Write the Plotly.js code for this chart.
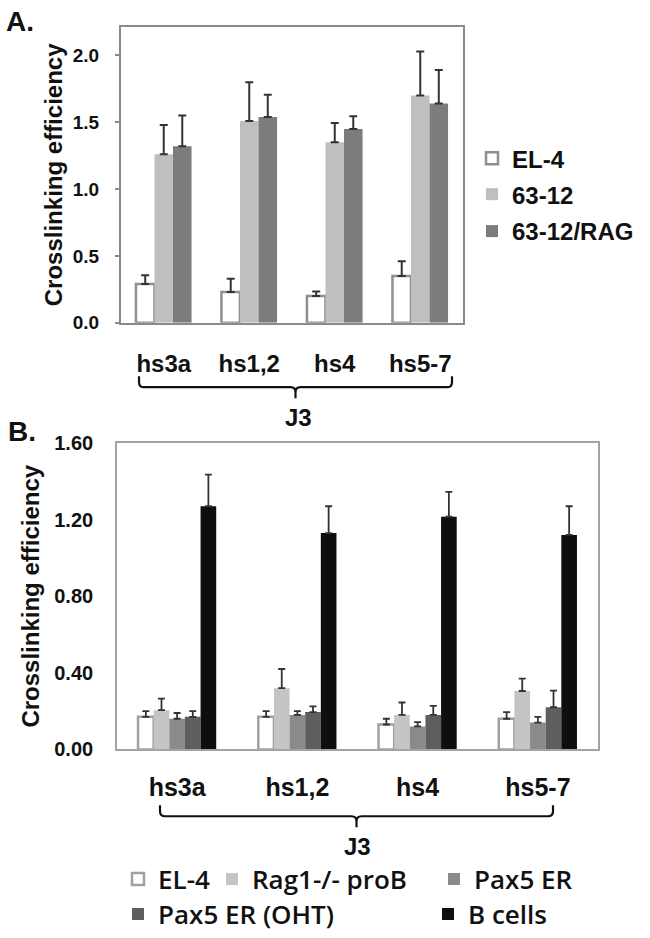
<!DOCTYPE html>
<html>
<head>
<meta charset="utf-8">
<script src="https://cdn.plot.ly/plotly-3.0.1.min.js"></script>
<style>html,body{margin:0;padding:0;background:#fff;}#chart{width:650px;height:938px;}</style>
</head>
<body>
<div id="chart"></div>
<script>
// ---------- DATA ----------
const categoriesA = ['hs3a', 'hs1,2', 'hs4', 'hs5-7'];
const el4A      = [0.29, 0.23, 0.20, 0.35];
const el4AErr   = [0.065, 0.10, 0.035, 0.11];
const c6312A    = [1.26, 1.51, 1.35, 1.70];
const c6312AErr = [0.22, 0.29, 0.145, 0.33];
const ragA      = [1.32, 1.54, 1.45, 1.64];
const ragAErr   = [0.23, 0.165, 0.095, 0.25];
const seriesNamesA = ['EL-4', '63-12', '63-12/RAG'];

const categoriesB = ['hs3a', 'hs1,2', 'hs4', 'hs5-7'];
const el4B      = [0.17, 0.17, 0.13, 0.16];
const el4BErr   = [0.03, 0.03, 0.03, 0.035];
const rag1B     = [0.205, 0.32, 0.18, 0.305];
const rag1BErr  = [0.06, 0.10, 0.065, 0.065];
const pax5B     = [0.16, 0.18, 0.12, 0.14];
const pax5BErr  = [0.03, 0.02, 0.022, 0.03];
const ohtB      = [0.17, 0.195, 0.18, 0.22];
const ohtBErr   = [0.03, 0.03, 0.047, 0.087];
const bcellsB   = [1.27, 1.13, 1.215, 1.12];
const bcellsBErr= [0.165, 0.14, 0.13, 0.15];
const seriesNamesB = ['EL-4', 'Rag1-/- proB', 'Pax5 ER', 'Pax5 ER (OHT)', 'B cells'];

const yTickLabelsA = ['0.0', '0.5', '1.0', '1.5', '2.0'];
const yTickLabelsB = ['0.00', '0.40', '0.80', '1.20', '1.60'];
const yTitle = 'Crosslinking efficiency';
const bracketLabel = 'J3';
const noLower = [0, 0, 0, 0];

// ---------- HELPERS ----------
const W = 650, H = 938;
const px = x => x / W;
const py = y => 1 - y / H;
const ARIAL = 'Arial, "Liberation Sans", sans-serif';

function errY(arr, color, thick, width) {
  return {type: 'data', symmetric: false, array: arr, arrayminus: noLower,
          color: color, thickness: thick, width: width, visible: true};
}

function barTrace(x, y, err, name, fill, lineColor, lineWidth, xa, ya, legendId, errColor, errThick, errWidth) {
  return {
    type: 'bar', x: x, y: y, name: name, xaxis: xa, yaxis: ya, legend: legendId, showlegend: true,
    marker: {color: fill, line: {color: lineColor, width: lineWidth}},
    error_y: errY(err, errColor, errThick, errWidth),
    hoverinfo: 'skip'
  };
}

const data = [
  barTrace(categoriesA, el4A, el4AErr, seriesNamesA[0], '#ffffff', '#8f8f8f', 2.5, 'x', 'y', 'legend', '#333', 2, 4),
  barTrace(categoriesA, c6312A, c6312AErr, seriesNamesA[1], '#bfbfbf', '#bfbfbf', 0, 'x', 'y', 'legend2', '#333', 2, 4),
  barTrace(categoriesA, ragA, ragAErr, seriesNamesA[2], '#7c7c7c', '#7c7c7c', 0, 'x', 'y', 'legend3', '#333', 2, 4),
  barTrace(categoriesB, el4B, el4BErr, seriesNamesB[0], '#ffffff', '#a0a0a0', 2.5, 'x2', 'y2', 'legend4', '#333', 1.8, 3.5),
  barTrace(categoriesB, rag1B, rag1BErr, seriesNamesB[1], '#c4c4c4', '#c4c4c4', 0, 'x2', 'y2', 'legend5', '#333', 1.8, 3.5),
  barTrace(categoriesB, pax5B, pax5BErr, seriesNamesB[2], '#8a8a8a', '#8a8a8a', 0, 'x2', 'y2', 'legend6', '#333', 1.8, 3.5),
  barTrace(categoriesB, ohtB, ohtBErr, seriesNamesB[3], '#5e5e5e', '#5e5e5e', 0, 'x2', 'y2', 'legend7', '#333', 1.8, 3.5),
  barTrace(categoriesB, bcellsB, bcellsBErr, seriesNamesB[4], '#0e0e0e', '#0e0e0e', 0, 'x2', 'y2', 'legend8', '#333', 1.8, 3.5)
];

function legendAt(xPix, yPix, font) {
  return {x: px(xPix), y: py(yPix), xref: 'paper', yref: 'paper', xanchor: 'left', yanchor: 'middle',
          bgcolor: 'rgba(0,0,0,0)', borderwidth: 0, font: font, itemclick: false, itemdoubleclick: false,
          visible: true};
}
const legFontA = {family: ARIAL, size: 24, weight: 'bold', color: '#111'};
const legFontB = {family: '"Open Sans", Lato, sans-serif', size: 26, weight: 600, color: '#111'};

// bracket path (paper coords) built from pixel positions
function bracketPath(xl, xr, yTop, yH, yTick) {
  const r = 5, xc = (xl + xr) / 2;
  const P = (x, y) => px(x).toFixed(5) + ',' + py(y).toFixed(5);
  return 'M' + P(xl, yTop) + ' L' + P(xl, yH - r) + ' Q' + P(xl, yH) + ' ' + P(xl + r, yH) +
         ' L' + P(xc - r, yH) + ' Q' + P(xc, yH) + ' ' + P(xc, yH + r) + ' L' + P(xc, yTick) +
         ' M' + P(xc, yH + r) + ' Q' + P(xc, yH) + ' ' + P(xc + r, yH) +
         ' L' + P(xr - r, yH) + ' Q' + P(xr, yH) + ' ' + P(xr, yH - r) + ' L' + P(xr, yTop);
}

const layout = {
  width: W, height: H, autosize: false,
  margin: {l: 0, r: 0, t: 0, b: 0},
  paper_bgcolor: '#fff', plot_bgcolor: '#fff',
  showlegend: true,
  barmode: 'group', bargap: 0.35, bargroupgap: 0,
  font: {family: ARIAL, color: '#111'},
  xaxis: {
    domain: [px(121), px(463)], anchor: 'y', type: 'category',
    showline: true, mirror: true, linecolor: '#8a8a8a', linewidth: 2,
    ticks: '', showgrid: false, zeroline: false,
    tickfont: {family: ARIAL, size: 24, weight: 'bold', color: '#111'},
    ticklabelstandoff: 18, fixedrange: true
  },
  yaxis: {
    domain: [py(323.5), py(27)], anchor: 'x', range: [0, 2.213],
    tickmode: 'array', tickvals: yTickLabelsA.map(Number), ticktext: yTickLabelsA,
    showline: true, mirror: true, linecolor: '#8a8a8a', linewidth: 2,
    ticks: 'outside', ticklen: 4, tickwidth: 2, tickcolor: '#8a8a8a',
    showgrid: false, zeroline: false,
    tickfont: {family: ARIAL, size: 19, weight: 'bold', color: '#111'},
    ticklabelstandoff: 12,
    title: {text: yTitle, font: {family: ARIAL, size: 24, weight: 'bold', color: '#111'}, standoff: 3},
    fixedrange: true
  },
  xaxis2: {
    domain: [px(117), px(598)], anchor: 'y2', type: 'category',
    showline: true, mirror: true, linecolor: '#a3a3a3', linewidth: 1.8,
    ticks: '', showgrid: false, zeroline: false,
    tickfont: {family: ARIAL, size: 25, weight: 'bold', color: '#111'},
    ticklabelstandoff: 15, fixedrange: true
  },
  yaxis2: {
    domain: [py(751), py(444)], anchor: 'x2', range: [0, 1.6],
    tickmode: 'array', tickvals: yTickLabelsB.map(Number), ticktext: yTickLabelsB,
    showline: true, mirror: true, linecolor: '#a3a3a3', linewidth: 1.8,
    ticks: '', showgrid: false, zeroline: false,
    tickfont: {family: ARIAL, size: 20, weight: 'bold', color: '#111'},
    ticklabelstandoff: 18,
    title: {text: yTitle, font: {family: ARIAL, size: 24, weight: 'bold', color: '#111'}, standoff: 8},
    fixedrange: true
  },
  legend:  legendAt(472, 159, legFontA),
  legend2: legendAt(472, 195, legFontA),
  legend3: legendAt(472, 232, legFontA),
  legend4: legendAt(118, 881, legFontB),
  legend5: legendAt(212, 881, legFontB),
  legend6: legendAt(434, 881, legFontB),
  legend7: legendAt(118, 916, legFontB),
  legend8: legendAt(428, 916, legFontB),
  shapes: [
    {type: 'path', xref: 'paper', yref: 'paper', path: bracketPath(139, 452, 377, 388, 399),
     line: {color: '#111', width: 2.2}},
    {type: 'path', xref: 'paper', yref: 'paper', path: bracketPath(160, 553, 807, 818, 829),
     line: {color: '#111', width: 2.2}}
  ],
  annotations: [
    {text: 'A.', xref: 'paper', yref: 'paper', x: px(4), y: py(22), xanchor: 'left', yanchor: 'middle',
     showarrow: false, font: {family: ARIAL, size: 28, weight: 'bold', color: '#111'}},
    {text: 'B.', xref: 'paper', yref: 'paper', x: px(6), y: py(432), xanchor: 'left', yanchor: 'middle',
     showarrow: false, font: {family: ARIAL, size: 28, weight: 'bold', color: '#111'}},
    {text: bracketLabel, xref: 'paper', yref: 'paper', x: px(298), y: py(418), xanchor: 'center', yanchor: 'middle',
     showarrow: false, font: {family: ARIAL, size: 24, weight: 'bold', color: '#111'}},
    {text: bracketLabel, xref: 'paper', yref: 'paper', x: px(357), y: py(848), xanchor: 'center', yanchor: 'middle',
     showarrow: false, font: {family: ARIAL, size: 24, weight: 'bold', color: '#111'}}
  ]
};

Plotly.newPlot('chart', data, layout, {staticPlot: true, displayModeBar: false});
</script>
</body>
</html>
